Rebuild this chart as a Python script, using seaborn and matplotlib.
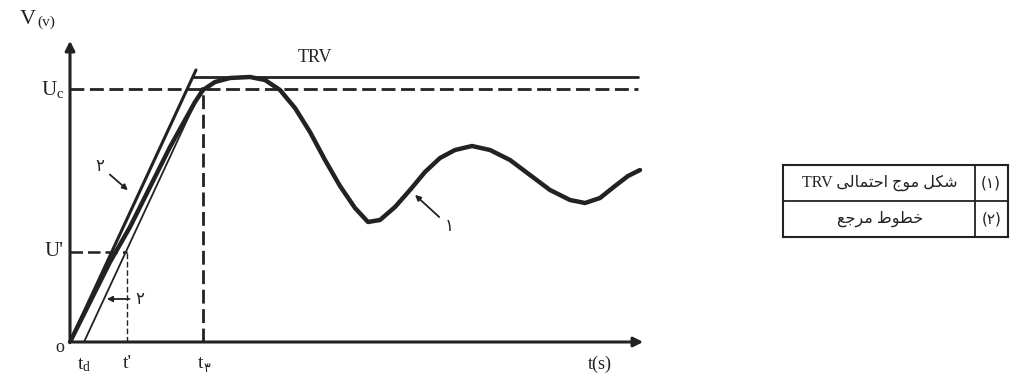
import numpy as np
import pandas as pd
import matplotlib
matplotlib.use("Agg")
import matplotlib.pyplot as plt
import seaborn as sns

# --- donnees (unites arbitraires) ---
t_curve = [0, 2, 4, 6, 8, 10, 11.5, 12.5, 13.3, 14.5, 16, 18, 19.5, 21, 22.5,
           24, 25.5, 27, 28.5, 29.8, 31, 32.5, 34, 35.5, 37, 38.5, 40.2, 42,
           44, 46, 48, 50, 51.5, 53, 54.5, 55.8, 57]
v_curve = [0, 4, 8, 11.5, 15.5, 19.5, 22.2, 24, 25.2, 26, 26.4, 26.5, 26.2,
           25.2, 23.4, 21, 18.2, 15.6, 13.4, 12, 12.2, 13.5, 15.2, 17, 18.4,
           19.2, 19.6, 19.2, 18.2, 16.7, 15.2, 14.2, 13.9, 14.4, 15.6, 16.6, 17.2]
ref_t = [0, 12.6]
ref_v = [0, 27.2]
delay_t = [1.4, 13.2]
delay_v = [0, 25.4]
u_c = 25.3
u_trv = 26.5
u_prime = 9.0
t_3 = 13.3
t_prime = 5.7
t_d = 1.4
t_end = 56.8

legend_rows = [("(۱)", "TRV ﻰﻟﺎﻤﺘﺣﺍ ﺝﻮﻣ ﻞﻜﺷ"), ("(۲)", "ﻊﺟﺮﻣ ﻁﻮﻄﺧ")]

sns.set_style("white")
plt.rcParams['font.family'] = ['Liberation Serif', 'DejaVu Sans']
ink = '#222222'

fig = plt.figure(figsize=(10.17, 3.83), dpi=100)
ax = fig.add_axes([0, 0, 1, 1])
ax.set_xlim(-7, 94.7)
ax.set_ylim(-4.1, 34.2)
ax.axis('off')

df = pd.DataFrame({'t': t_curve, 'v': v_curve})
sns.lineplot(data=df, x='t', y='v', sort=False, color=ink, lw=3.2, ax=ax)
sns.lineplot(x=ref_t, y=ref_v, color=ink, lw=2.2, ax=ax)
sns.lineplot(x=delay_t, y=delay_v, color=ink, lw=1.3, ax=ax)

# axes avec fleches
ax.annotate('', xy=(0, 30.4), xytext=(0, 0),
            arrowprops=dict(arrowstyle='-|>', color=ink, lw=2.2, mutation_scale=14))
ax.annotate('', xy=(57.6, 0), xytext=(0, 0),
            arrowprops=dict(arrowstyle='-|>', color=ink, lw=2.2, mutation_scale=14))

# niveaux
ax.plot([0, t_end], [u_c, u_c], color=ink, lw=2, ls=(0, (5, 2)))
ax.plot([12.3, t_end], [u_trv, u_trv], color=ink, lw=2)
ax.plot([t_3, t_3], [0, u_c], color=ink, lw=2, ls=(0, (5, 2)))
ax.plot([0, t_prime], [u_prime, u_prime], color=ink, lw=1.8, ls=(0, (5, 2)))
ax.plot([t_prime, t_prime], [0, u_prime], color=ink, lw=1, ls=(0, (4, 2)))

# textes
ax.text(-5.0, 32.3, 'V', fontsize=16, ha='left', va='center', color=ink)
ax.text(-3.3, 32.0, '(v)', fontsize=11, ha='left', va='center', color=ink)
ax.text(-0.6, u_c, r'$\mathregular{U_c}$', fontsize=15, ha='right', va='center', color=ink)
ax.text(-0.6, u_prime, "U'", fontsize=15, ha='right', va='center', color=ink)
ax.text(-0.6, -0.6, 'o', fontsize=13, ha='right', va='center', color=ink)
ax.text(t_d, -2.3, r'$\mathregular{t_d}$', fontsize=14, ha='center', va='center', color=ink)
ax.text(t_prime, -2.2, "t'", fontsize=14, ha='center', va='center', color=ink)
ax.text(t_3, -2.2, 't', fontsize=14, ha='right', va='center', color=ink)
ax.text(t_3, -2.7, '۳', fontsize=9, ha='left', va='center', color=ink, family='DejaVu Sans')
ax.text(53, -2.2, 't(s)', fontsize=13, ha='center', va='center', color=ink)
ax.text(24.5, 28.4, 'TRV', fontsize=13, ha='center', va='center', color=ink)

# reperes numerotes
ax.annotate('۲', xy=(6.0, 15.0), xytext=(3.0, 17.6), fontsize=12, color=ink,
            family='DejaVu Sans', ha='center', va='center',
            arrowprops=dict(arrowstyle='-|>', color=ink, lw=1.3, mutation_scale=8))
ax.annotate('۲', xy=(3.4, 4.3), xytext=(7.0, 4.3), fontsize=12, color=ink,
            family='DejaVu Sans', ha='center', va='center',
            arrowprops=dict(arrowstyle='-|>', color=ink, lw=1.3, mutation_scale=8))
ax.annotate('۱', xy=(34.3, 14.9), xytext=(37.9, 11.6), fontsize=12, color=ink,
            family='DejaVu Sans', ha='center', va='center',
            arrowprops=dict(arrowstyle='-|>', color=ink, lw=1.3, mutation_scale=8))

# tableau de legende
tab = fig.add_axes([0.770, 0.381, 0.221, 0.188])
tab.set_xlim(0, 1)
tab.set_ylim(0, 1)
tab.set_xticks([])
tab.set_yticks([])
for s in tab.spines.values():
    s.set_visible(True)
    s.set_color(ink)
    s.set_linewidth(1.5)
tab.axvline(0.853, color=ink, lw=1.3)
tab.axhline(0.5, color=ink, lw=1.3)
for i, (num, label) in enumerate(legend_rows):
    y = 0.75 - 0.5 * i
    tab.text(0.926, y, num, ha='center', va='center', fontsize=11,
             family=['DejaVu Sans'], color=ink)
    tab.text(0.43, y, label, ha='center', va='center', fontsize=11.5,
             family=['Liberation Serif', 'DejaVu Sans'], color=ink)

plt.savefig('out.png', dpi=100)
